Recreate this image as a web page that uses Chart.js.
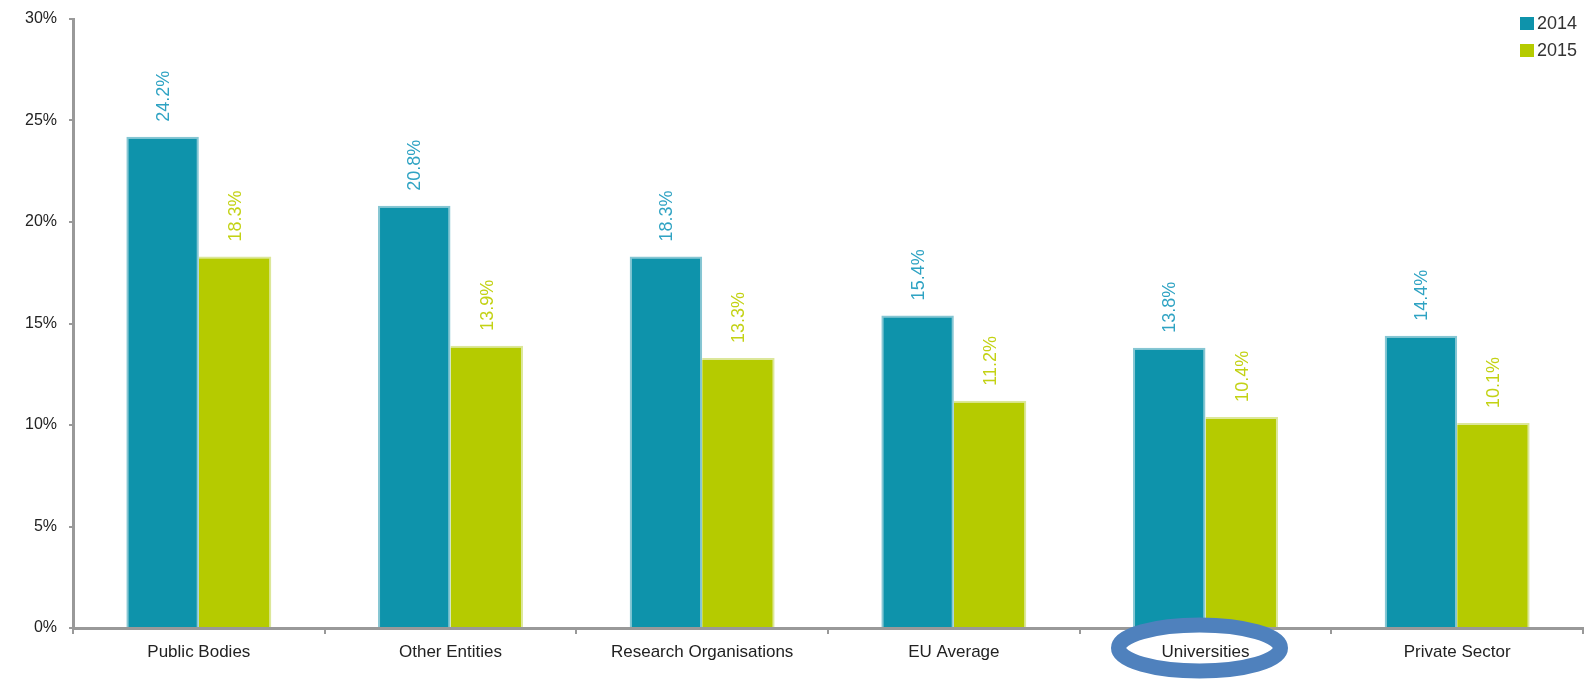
<!DOCTYPE html>
<html>
<head>
<meta charset="utf-8">
<script src="https://cdn.jsdelivr.net/npm/chart.js@4/dist/chart.umd.min.js"></script>
<style>
  html, body { margin: 0; padding: 0; background: #fff; }
  #wrap { width: 1585px; height: 679px; position: relative; }
</style>
</head>
<body>
<div id="wrap"><canvas id="chart"></canvas></div>
<script>
var categories = ["Public Bodies", "Other Entities", "Research Organisations", "EU Average", "Universities", "Private Sector"];
var series2014 = [24.2, 20.8, 18.3, 15.4, 13.8, 14.4];
var series2015 = [18.3, 13.9, 13.3, 11.2, 10.4, 10.1];
var yTicks = [0, 5, 10, 15, 20, 25, 30];
var highlighted = "Universities";

var teal = '#0E93AB', green = '#B5CB00';

// value labels, rotated, above each bar
var barLabels = {
    id: 'barLabels',
    afterDatasetsDraw: function(chart) {
        var ctx = chart.ctx;
        var colors = ['#2FA3C3', '#C3D214'];
        chart.data.datasets.forEach(function(ds, i) {
            var meta = chart.getDatasetMeta(i);
            meta.data.forEach(function(bar, j) {
                ctx.save();
                ctx.translate(bar.x + 1, bar.y - 15);
                ctx.rotate(-Math.PI / 2);
                ctx.font = '18px "Liberation Sans", Arial, sans-serif';
                ctx.fillStyle = colors[i];
                ctx.textAlign = 'left';
                ctx.textBaseline = 'middle';
                ctx.fillText(ds.data[j].toFixed(1) + '%', 0, 0);
                ctx.restore();
            });
        });
    }
};

// small legend in the top right corner
var cornerLegend = {
    id: 'cornerLegend',
    afterDraw: function(chart) {
        var ctx = chart.ctx;
        ctx.save();
        ctx.font = '18px "Liberation Sans", Arial, sans-serif';
        ctx.textBaseline = 'middle';
        chart.data.datasets.forEach(function(ds, i) {
            var y = 17 + i * 27;
            ctx.fillStyle = ds.backgroundColor;
            ctx.fillRect(1520, y, 14, 13);
            ctx.fillStyle = '#333';
            ctx.fillText(ds.label, 1537, y + 7);
        });
        ctx.restore();
    }
};

// blue ring round the highlighted category label
var ring = {
    id: 'ring',
    afterDraw: function(chart) {
        var ctx = chart.ctx;
        var x = chart.scales.x.getPixelForValue(categories.indexOf(highlighted)) - 6;
        ctx.save();
        ctx.strokeStyle = '#4F81BD';
        ctx.lineWidth = 15;
        ctx.beginPath();
        ctx.ellipse(x, 648, 81, 23, 0, 0, Math.PI * 2);
        ctx.stroke();
        ctx.restore();
    }
};

new Chart(document.getElementById('chart'), {
    type: 'bar',
    data: {
        labels: categories,
        datasets: [
            { label: '2014', data: series2014, backgroundColor: teal, borderColor: '#86C6D3', borderWidth: { left: 2, right: 2, top: 2 } },
            { label: '2015', data: series2015, backgroundColor: green, borderColor: '#DCE79A', borderWidth: { left: 0, right: 2, top: 2 } }
        ]
    },
    options: {
        responsive: true,
        maintainAspectRatio: false,
        animation: false,
        layout: { padding: { top: 19, right: 2, left: 0, bottom: 0 } },
        datasets: { bar: { categoryPercentage: 0.576, barPercentage: 1 } },
        plugins: { legend: { display: false }, tooltip: { enabled: false } },
        scales: {
            x: {
                grid: { drawOnChartArea: false, drawTicks: true, tickLength: 6, color: '#999', lineWidth: 2 },
                border: { color: '#999', width: 3 },
                ticks: { color: '#222', padding: 8, maxRotation: 0, font: { family: '"Liberation Sans", Arial, sans-serif', size: 17 } },
                afterFit: function(s) { s.height = 51; s.paddingRight = 0; s.paddingLeft = 0; }
            },
            y: {
                min: 0, max: 30,
                afterBuildTicks: function(s) { s.ticks = yTicks.map(function(v) { return { value: v }; }); },
                grid: { drawOnChartArea: false, drawTicks: true, tickLength: 4, color: '#999', lineWidth: 2 },
                border: { color: '#999', width: 3 },
                ticks: {
                    color: '#222', padding: 12,
                    font: { family: '"Liberation Sans", Arial, sans-serif', size: 16 },
                    callback: function(v) { return v + '%'; }
                },
                afterFit: function(s) { s.width = 73; s.paddingTop = 0; s.paddingBottom = 0; }
            }
        }
    },
    plugins: [barLabels, cornerLegend, ring]
});
</script>
</body>
</html>
